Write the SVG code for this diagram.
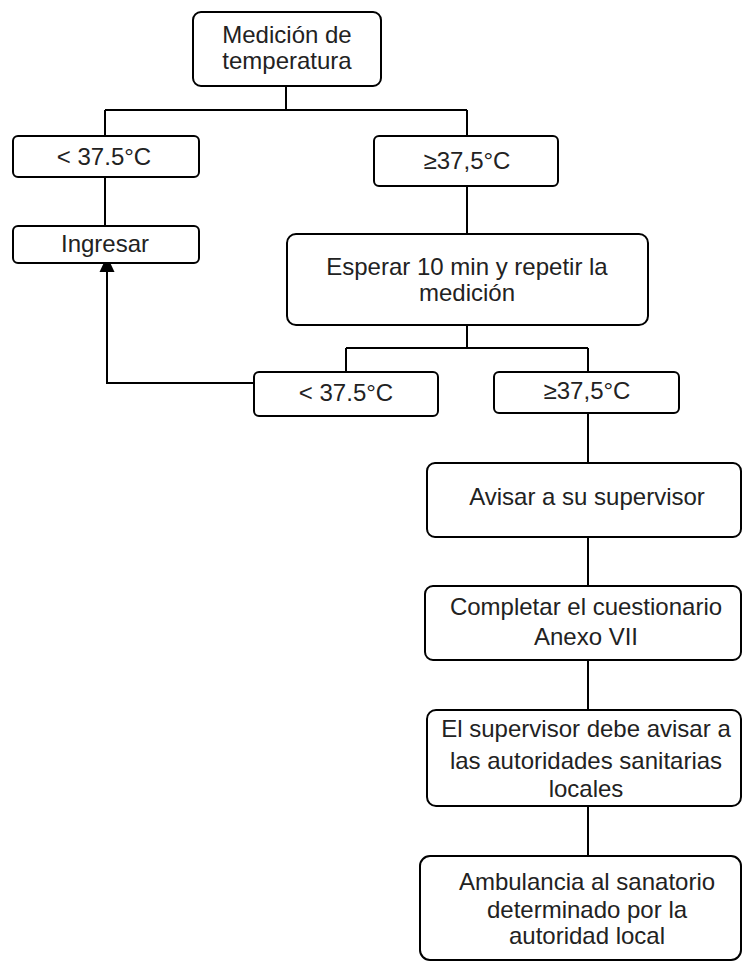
<svg xmlns="http://www.w3.org/2000/svg" width="742" height="962" viewBox="0 0 742 962">
<style>
.box{fill:#fff;stroke:#000;stroke-width:2}
.t{font-family:"Liberation Sans",Arial,sans-serif;font-size:24px;fill:#222;text-anchor:middle}
.c{fill:none;stroke:#000;stroke-width:2}
</style>
<defs>
<marker id="ah" markerWidth="8" markerHeight="8" refX="7" refY="4" orient="auto" markerUnits="userSpaceOnUse" viewBox="0 0 8 8">
<path d="M0,0 L8,4 L0,8 Z" fill="#000"/>
</marker>
</defs>
<rect width="742" height="962" fill="#fff"/>
<g id="connectors">
<path class="c" d="M286,86 V110"/>
<path class="c" d="M105,110 H467"/>
<path class="c" d="M105,110 V136"/>
<path class="c" d="M467,110 V136"/>
<path class="c" d="M105,177 V226"/>
<path class="c" d="M467,186 V234"/>
<path class="c" d="M467,325 V348"/>
<path class="c" d="M346,348 H588"/>
<path class="c" d="M346,348 V372"/>
<path class="c" d="M588,348 V372"/>
<path class="c" d="M588,413 V463"/>
<path class="c" d="M588,537 V586"/>
<path class="c" d="M588,660 V710"/>
<path class="c" d="M588,806 V856"/>
<path class="c" d="M253,383 H107 V271"/>
<path d="M107,256 L114.5,272 L99.5,272 Z" fill="#000"/>
</g>
<g id="n-medicion">
<rect class="box" x="193" y="12" width="188" height="74" rx="8"/>
<text class="t" x="287" y="43">Medición de</text>
<text class="t" x="287" y="69">temperatura</text>
</g>
<g id="n-menor1">
<rect class="box" x="13" y="136" width="186" height="41" rx="5"/>
<text class="t" x="104" y="165">&lt; 37.5°C</text>
</g>
<g id="n-mayor1">
<rect class="box" x="374" y="136" width="184" height="50" rx="5"/>
<text class="t" x="467" y="169">≥37,5°C</text>
</g>
<g id="n-ingresar">
<rect class="box" x="13" y="226" width="186" height="37" rx="5"/>
<text class="t" x="105" y="252">Ingresar</text>
</g>
<g id="n-esperar">
<rect class="box" x="287" y="234" width="361" height="91" rx="9"/>
<text class="t" x="467" y="275">Esperar 10 min y repetir la</text>
<text class="t" x="467" y="301">medición</text>
</g>
<g id="n-menor2">
<rect class="box" x="254" y="372" width="184" height="44" rx="5"/>
<text class="t" x="346" y="401">&lt; 37.5°C</text>
</g>
<g id="n-mayor2">
<rect class="box" x="494" y="372" width="185" height="41" rx="5"/>
<text class="t" x="587" y="399">≥37,5°C</text>
</g>
<g id="n-avisar">
<rect class="box" x="427" y="463" width="314" height="74" rx="8"/>
<text class="t" x="587" y="505">Avisar a su supervisor</text>
</g>
<g id="n-completar">
<rect class="box" x="425" y="586" width="316" height="74" rx="8"/>
<text class="t" x="586" y="615">Completar el cuestionario</text>
<text class="t" x="586" y="645">Anexo VII</text>
</g>
<g id="n-supervisor">
<rect class="box" x="427" y="710" width="314" height="96" rx="9"/>
<text class="t" x="586" y="737">El supervisor debe avisar a</text>
<text class="t" x="586" y="769">las autoridades sanitarias</text>
<text class="t" x="586" y="797">locales</text>
</g>
<g id="n-ambulancia">
<rect class="box" x="420" y="856" width="321" height="104" rx="10"/>
<text class="t" x="587" y="890">Ambulancia al sanatorio</text>
<text class="t" x="587" y="918">determinado por la</text>
<text class="t" x="587" y="944">autoridad local</text>
</g>
</svg>
